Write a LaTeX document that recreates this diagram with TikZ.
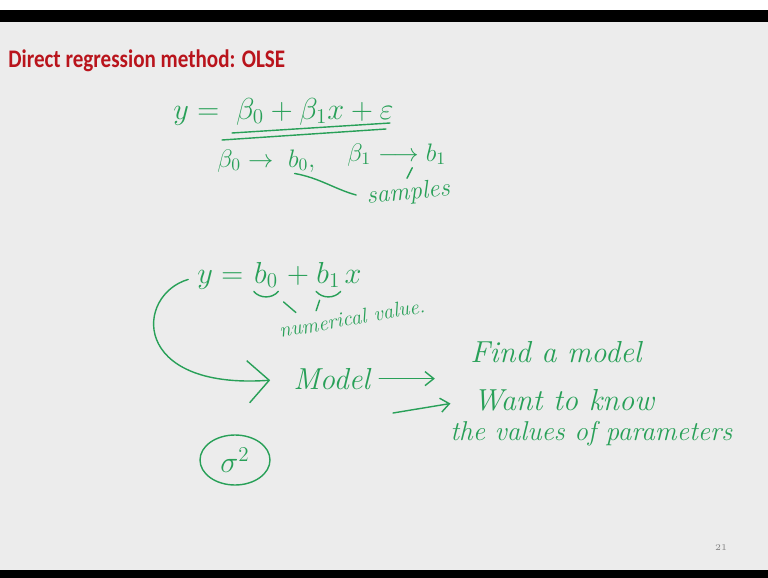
\documentclass[tikz,border=0pt]{standalone}
\usepackage{fontspec}
\setsansfont{Carlito}
\usepackage{amsmath}
\usetikzlibrary{positioning,shapes.geometric,arrows.meta}

\definecolor{craie}{RGB}{40,160,88}
\definecolor{titre}{RGB}{185,20,28}
\definecolor{fond}{RGB}{236,236,236}

\tikzset{
  main/.style={text=craie, font=\LARGE},
  morceau/.style={main, inner sep=0pt},
  trait/.style={draw=craie, thick, line cap=round},
  fleche/.style={trait, -{Straight Barb[length=5pt,width=8pt]}},
}

\begin{document}
\begin{tikzpicture}[x=0.02cm,y=-0.02cm]

  % Fond et bandes noires
  \fill[fond] (0,0) rectangle (768,578);
  \fill[white] (0,0) rectangle (768,10);
  \fill[black] (0,10) rectangle (768,22);
  \fill[black] (0,570) rectangle (768,578);
  \useasboundingbox (0,0) rectangle (768,578);

  % Titre
  \node[anchor=base west, inner sep=0pt, text=titre, font=\sffamily\bfseries\fontsize{12}{14}\selectfont] (titre) at (8,67) {\scalebox{1}[1.2]{Direct regression method: OLSE}};

  % Modele de population, double soulignement
  \node[morceau, anchor=base west] (pop) at (173,119) {$y = \;\beta_0 + \beta_1 x + \varepsilon$};
  \draw[trait] (232,133) -- (390,123);
  \draw[trait] (222,140) -- (386,129);

  % Estimateurs
  \node[morceau, anchor=base west, font=\Large] (fb0) at (217,167) {$\beta_0 \rightarrow{}$};
  \node[morceau, base right=4pt of fb0, font=\Large] (b0) {$b_0,$};
  \node[morceau, anchor=base west, font=\Large] (fb1) at (347,161) {$\beta_1 \longrightarrow b_1$};
  \node[morceau, anchor=base west, font=\Large\itshape, rotate=6] (samp) at (367,204) {samples};
  \draw[trait, shorten <=4pt, shorten >=6pt] (b0.south west) to[out=-10, in=165] (samp.west);
  \draw[trait] ([shift={(0pt,2pt)}]samp.north) -- ([shift={(3pt,8pt)}]samp.north);

  % Modele estime
  \node[morceau, anchor=base west] (ry) at (197,283) {$y = {}$};
  \node[morceau, base right=1pt of ry] (rb0) {$b_0$};
  \node[morceau, base right=1pt of rb0] (rplus) {${}+{}$};
  \node[morceau, base right=0pt of rplus] (rb1) {$b_1$};
  \node[morceau, base right=2pt of rb1] (rx) {$x$};
  \draw[trait] ([yshift=-2pt]rb0.south west) to[bend right=50] ([yshift=-2pt]rb0.south east);
  \draw[trait] ([yshift=-2pt]rb1.south west) to[bend right=50] ([yshift=-2pt]rb1.south east);
  \node[morceau, anchor=base west, font=\large\itshape, rotate=10] (num) at (280,338) {numerical value.};
  \draw[trait] ([shift={(3pt,-8pt)}]rb0.south east) -- ([shift={(10pt,-14pt)}]rb0.south east);
  \draw[trait] ([shift={(2pt,-7pt)}]rb1.south west) -- ([shift={(0pt,-13pt)}]rb1.south west);

  % Modele et ses buts
  \node[morceau, anchor=base west, font=\LARGE\itshape] (model) at (293,389) {Model};
  \node[morceau, anchor=base west, font=\LARGE\itshape] (find) at (470,362) {Find a model};
  \node[morceau, anchor=base west, font=\LARGE\itshape] (want) at (473,410) {Want to know};
  \node[morceau, anchor=base west, font=\fontsize{15.5}{18}\selectfont\itshape] (param) at (450,440) {the values of parameters};
  \coordinate (depart) at (393,413);
  \draw[fleche, shorten <=5pt, shorten >=20pt] (model.east) -- (find.west |- model.east);
  \draw[fleche, shorten >=13pt] (depart) -- (want.west);

  % Grande fleche courbe
  \draw[trait, -{Straight Barb[length=12pt,width=24pt]}, shorten >=13pt] ([xshift=-5pt]ry.west) .. controls (135,295) and (130,390) .. (model.west);

  % Variance entouree
  \node[main, draw=craie, thick, ellipse, minimum width=1.4cm, minimum height=1cm, inner sep=0pt] (sigma) at (235,460) {$\sigma^2$};

  % Numero de page
  \node[text=gray, font=\tiny, inner sep=0pt] (page) at (721,548) {21};

\end{tikzpicture}
\end{document}
